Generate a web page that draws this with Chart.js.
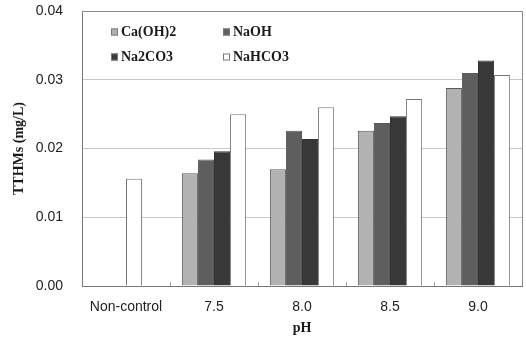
<!DOCTYPE html>
<html>
<head>
<meta charset="utf-8">
<script src="https://cdn.jsdelivr.net/npm/chart.js@4"></script>
<style>
  html, body { margin: 0; padding: 0; background: #fff; }
  #wrap { width: 526px; height: 341px; }
</style>
</head>
<body>
<div id="wrap"><canvas id="chart1" width="526" height="341"></canvas></div>
<script>
const categories = ['Non-control', '7.5', '8.0', '8.5', '9.0'];
const caOH2 = [null, 0.0164, 0.0170, 0.0226, 0.0288];
const naOH = [null, 0.0184, 0.0226, 0.0237, 0.0310];
const na2CO3 = [null, 0.0196, 0.0214, 0.0247, 0.0328];
const naHCO3 = [null, 0.0250, 0.0260, 0.0272, 0.0307];
const nonControl = [0.0156, null, null, null, null];
const yTicks = [0, 0.01, 0.02, 0.03, 0.04];

const ctx1 = document.getElementById('chart1').getContext('2d');

const frameAndLegend = {
    id: 'frameAndLegend',
    afterDraw(chart) {
        const c = chart.ctx;
        const a = chart.chartArea;
        c.save();
        c.strokeStyle = '#8a8a8a';
        c.lineWidth = 1;
        c.beginPath();
        c.moveTo(a.left, a.top + 0.5);
        c.lineTo(a.right + 0.5, a.top + 0.5);
        c.lineTo(a.right + 0.5, a.bottom);
        c.stroke();

        // legend, 2 x 2
        const items = chart.data.datasets.filter(d => !d.hideLegend);
        const cols = [111, 223];
        const rows = [32, 57];
        c.font = 'bold 14px "Liberation Serif", "Times New Roman", serif';
        c.textBaseline = 'middle';
        items.forEach((d, i) => {
            const x = cols[i % 2];
            const y = rows[Math.floor(i / 2)];
            c.fillStyle = d.backgroundColor;
            c.fillRect(x, y - 3.5, 7, 7);
            c.strokeStyle = '#777';
            c.strokeRect(x + 0.5, y - 3, 6, 6);
            c.fillStyle = '#1a1a1a';
            c.fillText(d.label, x + 10, y);
        });
        c.restore();
    }
};

const barBorder = '#5a5a5a';

new Chart(ctx1, {
    type: 'bar',
    data: {
        labels: categories,
        datasets: [
            { label: 'Ca(OH)2', data: caOH2, backgroundColor: '#b2b2b2', borderColor: barBorder, borderWidth: 1, stack: 'a' },
            { label: 'NaOH', data: naOH, backgroundColor: '#5e5e5e', borderColor: barBorder, borderWidth: 1, stack: 'b' },
            { label: 'Na2CO3', data: na2CO3, backgroundColor: '#383838', borderColor: '#333', borderWidth: 1, stack: 'c' },
            { label: 'NaHCO3', data: naHCO3, backgroundColor: '#ffffff', borderColor: '#777', borderWidth: 1, stack: 'd' },
            { label: 'NaHCO3', data: nonControl, backgroundColor: '#ffffff', borderColor: '#777', borderWidth: 1, stack: 'c', hideLegend: true }
        ]
    },
    options: {
        responsive: false,
        animation: false,
        layout: { padding: { top: 11, right: 4, left: 0, bottom: 0 } },
        datasets: {
            bar: { barPercentage: 1, categoryPercentage: 0.73 }
        },
        plugins: {
            legend: { display: false },
            tooltip: { enabled: false }
        },
        scales: {
            x: {
                stacked: true,
                grid: {
                    display: true,
                    offset: true,
                    drawOnChartArea: false,
                    drawTicks: true,
                    tickLength: -4,
                    color: '#999'
                },
                border: { display: true, color: '#777', width: 1 },
                ticks: {
                    color: '#222',
                    padding: 17,
                    font: { family: '"Liberation Sans", Arial, sans-serif', size: 14 }
                },
                title: {
                    display: true,
                    text: 'pH',
                    color: '#1a1a1a',
                    padding: { top: 0, bottom: 4 },
                    font: { family: '"Liberation Serif", "Times New Roman", serif', size: 14, weight: 'bold' }
                },
                afterFit(scale) { scale.height = 55; }
            },
            y: {
                stacked: true,
                min: 0,
                max: 0.04,
                afterBuildTicks(scale) {
                    scale.ticks = yTicks.map(v => ({ value: v }));
                },
                grid: {
                    color: '#c8c8c8',
                    drawTicks: false
                },
                border: { display: true, color: '#777', width: 1 },
                ticks: {
                    color: '#222',
                    padding: 19,
                    font: { family: '"Liberation Sans", Arial, sans-serif', size: 14 },
                    callback: v => v.toFixed(2)
                },
                title: {
                    display: true,
                    text: 'TTHMs (mg/L)',
                    color: '#1a1a1a',
                    padding: { top: 11, bottom: 0 },
                    font: { family: '"Liberation Serif", "Times New Roman", serif', size: 14, weight: 'bold' }
                },
                afterFit(scale) {
                    scale.width = 82;
                    scale.paddingTop = 0;
                    scale.paddingBottom = 0;
                }
            }
        }
    },
    plugins: [frameAndLegend]
});
</script>
</body>
</html>
